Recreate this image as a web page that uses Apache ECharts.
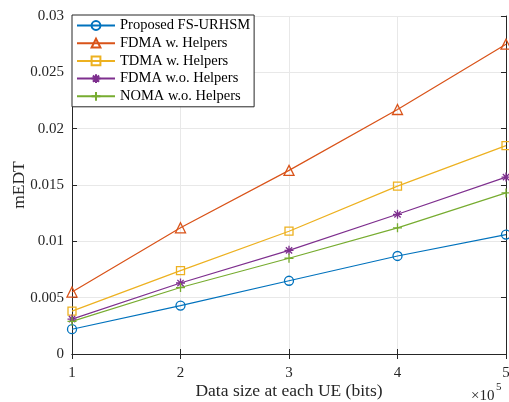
<!DOCTYPE html>
<html>
<head>
<meta charset="utf-8">
<script src="https://cdn.jsdelivr.net/npm/echarts@6/dist/echarts.min.js"></script>
<style>html,body{margin:0;padding:0;background:#fff;}#c{width:509px;height:402px;}</style>
</head>
<body>
<div id="c"></div>
<script>
var xValues = [1, 2, 3, 4, 5];
var proposed = [0.0022, 0.0043, 0.0065, 0.0087, 0.0106];
var fdmaHelpers = [0.0055, 0.0112, 0.0163, 0.0217, 0.0275];
var tdmaHelpers = [0.0038, 0.0074, 0.0109, 0.0149, 0.0185];
var fdmaNoHelpers = [0.0031, 0.0063, 0.0092, 0.0124, 0.0157];
var nomaNoHelpers = [0.0029, 0.0059, 0.0085, 0.0112, 0.0143];
var seriesNames = ['Proposed FS-URHSM', 'FDMA w. Helpers', 'TDMA w. Helpers', 'FDMA w.o. Helpers', 'NOMA w.o. Helpers'];
var colors = ['#0072BD', '#D95319', '#EDB120', '#7E2F8E', '#77AC30'];
var FONT = "'Liberation Serif', 'Times New Roman', serif";
var TXT = '#262626';

var allData = [proposed, fdmaHelpers, tdmaHelpers, fdmaNoHelpers, nomaNoHelpers];
var symbols = ['circle', 'triangle', 'rect',
  'path://M5,0 L5,10 M0,5 L10,5 M1.5,1.5 L8.5,8.5 M8.5,1.5 L1.5,8.5',
  'path://M5,0 L5,10 M0,5 L10,5'];
var sizes = [9, 10, 8, 9, 9];

var chart = echarts.init(document.getElementById('c'), null, {renderer: 'canvas'});
var series = allData.map(function (d, i) {
  return {
    name: seriesNames[i],
    type: 'line',
    data: d.map(function (v, j) { return [xValues[j], v]; }),
    symbol: symbols[i],
    symbolSize: sizes[i],
    showAllSymbol: true,
    lineStyle: {color: colors[i], width: 1.2},
    itemStyle: {color: i >= 3 ? colors[i] : 'rgba(255,255,255,0)', borderColor: colors[i], borderWidth: 1.3},
    emphasis: {disabled: true},
    animation: false,
    z: 3
  };
});

var option = {
  animation: false,
  backgroundColor: '#fff',
  grid: {left: 72, right: 3, top: 16, bottom: 48, containLabel: false, outerBoundsMode: 'none'},
  legend: {
    orient: 'vertical', left: 72, top: 15,
    padding: [3, 4, 3, 4],
    itemWidth: 38, itemHeight: 11, itemGap: 2.7,
    backgroundColor: '#fff', borderColor: TXT, borderWidth: 1,
    textStyle: {fontFamily: FONT, fontSize: 14.5, lineHeight: 15, color: '#000'},
    data: seriesNames
  },
  xAxis: [{
    type: 'value', min: 1, max: 5, interval: 1,
    name: 'Data size at each UE (bits)', nameLocation: 'middle', nameGap: 28, nameMoveOverlap: false,
    nameTextStyle: {fontFamily: FONT, fontSize: 17.5, color: TXT},
    axisLine: {show: true, lineStyle: {color: TXT, width: 1}},
    axisTick: {show: true, inside: true, length: 5, lineStyle: {color: TXT}},
    axisLabel: {fontFamily: FONT, fontSize: 15, color: TXT, margin: 12},
    splitLine: {show: true, lineStyle: {color: '#e8e8e8', width: 1}}
  }, {
    type: 'value', min: 1, max: 5, interval: 1, position: 'top',
    axisLine: {show: true, lineStyle: {color: TXT, width: 1}},
    axisTick: {show: true, inside: true, length: 5, lineStyle: {color: TXT}},
    axisLabel: {show: false}, splitLine: {show: false}
  }],
  yAxis: [{
    type: 'value', min: 0, max: 0.03, interval: 0.005,
    name: 'mEDT', nameLocation: 'middle', nameGap: 44, nameMoveOverlap: false,
    nameTextStyle: {fontFamily: FONT, fontSize: 17.5, color: TXT},
    axisLine: {show: true, lineStyle: {color: TXT, width: 1}},
    axisTick: {show: true, inside: true, length: 5, lineStyle: {color: TXT}},
    axisLabel: {fontFamily: FONT, fontSize: 15, color: TXT, margin: 8,
      formatter: function (v) { return String(Number(v.toFixed(3))); }},
    splitLine: {show: true, lineStyle: {color: '#e8e8e8', width: 1}}
  }, {
    type: 'value', min: 0, max: 0.03, interval: 0.005, position: 'right',
    axisLine: {show: true, lineStyle: {color: TXT, width: 1}},
    axisTick: {show: true, inside: true, length: 5, lineStyle: {color: TXT}},
    axisLabel: {show: false}, splitLine: {show: false}
  }],
  graphic: [{
    type: 'text', x: 471, y: 396,
    style: {text: '×10', fontFamily: FONT, fontSize: 15, fill: TXT, verticalAlign: 'middle'}
  }, {
    type: 'text', x: 496, y: 387,
    style: {text: '5', fontFamily: FONT, fontSize: 11, fill: TXT, verticalAlign: 'middle'}
  }],
  series: series
};
chart.setOption(option);
</script>
</body>
</html>
